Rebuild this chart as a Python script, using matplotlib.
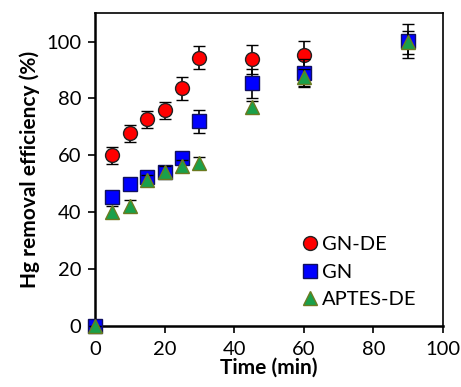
import matplotlib.pyplot as plt
from matplotlib.lines import Line2D
import numpy as np

plt.rcParams['font.family'] = ['Lato', 'DejaVu Sans']

# 시간 (min)
time_gnde = [5, 10, 15, 20, 25, 30, 45, 60]
gnde = [60, 67.7, 72.6, 75.8, 83.5, 94.4, 93.7, 95.2]
gnde_err = [3, 3, 3, 3, 4, 4, 5, 5]

time_gn = [0, 5, 10, 15, 20, 25, 30, 45, 60, 90]
gn = [0, 45.3, 49.8, 52.4, 54.2, 59, 72, 85.3, 89, 100.3]
gn_err = [0, 2, 2, 2, 2, 2, 4, 5, 5, 6]

time_aptes = [0, 5, 10, 15, 20, 25, 30, 45, 60, 90]
aptes = [0, 40, 42.3, 51.2, 54.2, 56.2, 57.3, 77, 87.5, 99.8]
aptes_err = [0, 2, 2, 2, 2, 2, 2, 2, 3, 4]

labels = ['GN-DE', 'GN', 'APTES-DE']
styles = [
    dict(marker='o', markerfacecolor='#ff0000', markeredgecolor='#222222'),
    dict(marker='s', markerfacecolor='#0000ff', markeredgecolor='#101060'),
    dict(marker='^', markerfacecolor='#1aa04a', markeredgecolor='#6b7a20'),
]

fig, ax = plt.subplots(figsize=(4.61, 3.87), dpi=100)

err_kw = dict(ecolor='black', elinewidth=1.2, capsize=4, capthick=1.2, linestyle='none')
series = [(time_gnde, gnde, gnde_err), (time_gn, gn, gn_err), (time_aptes, aptes, aptes_err)]
for i, (t, v, e) in enumerate(series):
    cont = ax.errorbar(t, v, yerr=e, markersize=10, markeredgewidth=1,
                       zorder=3 + i, **styles[i], **err_kw)
    for art in cont.get_children():
        art.set_clip_on(False)

ax.set_xlim(0, 100)
ax.set_ylim(0, 110)
ax.set_xticks(np.arange(0, 101, 20))
ax.set_yticks(np.arange(0, 101, 20))
ax.tick_params(direction='out', length=5, width=1.2, labelsize=14.5, pad=5)
ax.tick_params(axis='x', pad=6)
for s in ax.spines.values():
    s.set_linewidth(1.2)
ax.spines['left'].set_linewidth(1.8)
ax.spines['bottom'].set_linewidth(1.8)

ax.set_xlabel('Time (min)', fontsize=15, fontweight='bold', labelpad=0)
ax.set_ylabel('Hg removal efficiency (%)', fontsize=15, fontweight='bold', labelpad=4)

# 범례 (마커만)
handles = [Line2D([], [], linestyle='none', markersize=10, markeredgewidth=1, **st) for st in styles]
ax.legend(handles, labels, loc='lower right', bbox_to_anchor=(0.975, 0.0), frameon=False,
          fontsize=14.5, handletextpad=0.1, handlelength=1.0, labelspacing=0.5)

fig.subplots_adjust(left=0.206, right=0.961, top=0.966, bottom=0.158)
plt.savefig('out.png')
